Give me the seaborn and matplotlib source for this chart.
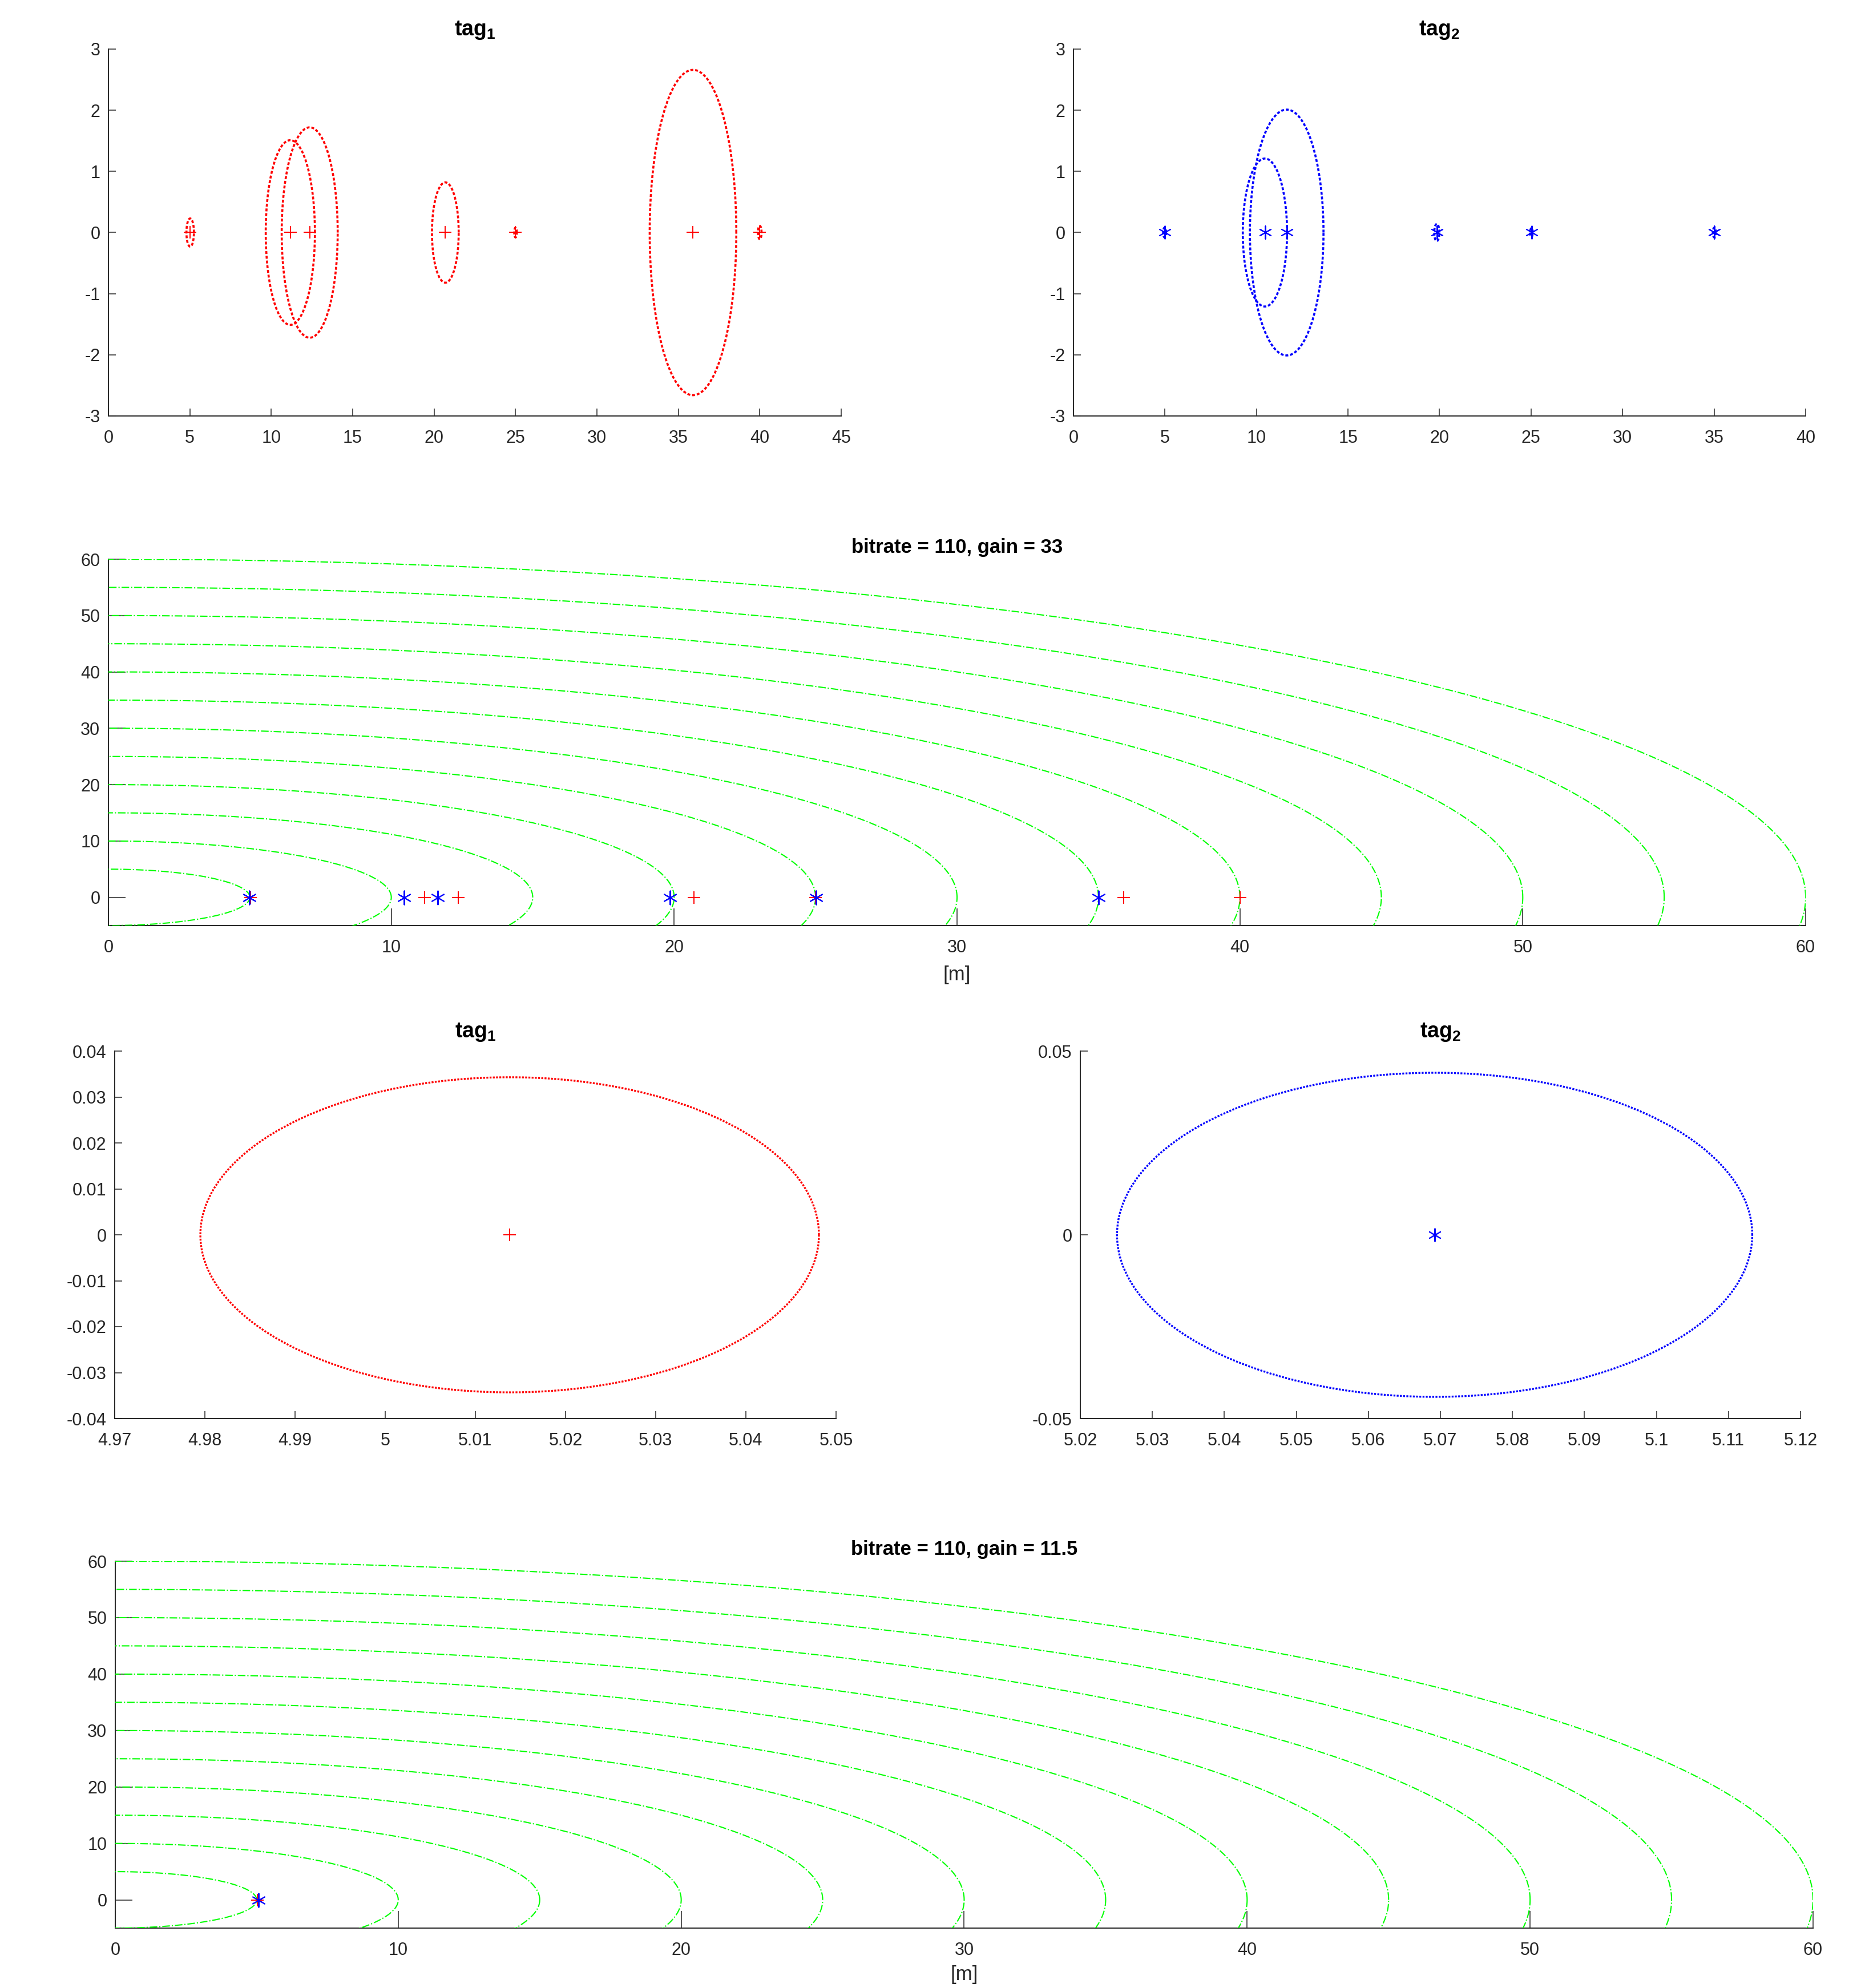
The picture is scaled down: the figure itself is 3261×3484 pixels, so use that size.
import numpy as np
import pandas as pd
import matplotlib
matplotlib.use("Agg")
import matplotlib.pyplot as plt
from matplotlib.ticker import FuncFormatter, FixedLocator
import seaborn as sns

# ---------------- data ----------------
# gain = 33 : estimated tag positions (on y = 0) and uncertainty radii
tag1_x = [5.02, 11.17, 12.36, 20.69, 25.0, 35.9, 40.0]
tag1_y = [0, 0, 0, 0, 0, 0, 0]
tag1_r = [0.23, 1.51, 1.72, 0.82, 0.08, 2.66, 0.11]

tag2_x = [4.98, 10.46, 11.65, 19.85, 25.02, 35.01]
tag2_y = [0, 0, 0, 0, 0, 0]
tag2_r = [0.08, 1.21, 2.01, 0.14, 0.07, 0.08]

# gain = 11.5 : single position, zoomed views
tag1z_x = [5.0138]
tag1z_y = [0]
tag1z_r = [0.0343]
tag2z_x = [5.0692]
tag2z_y = [0]
tag2z_r = [0.0441]

# range rings (radius in m)
ring_r = [5, 10, 15, 20, 25, 30, 35, 40, 45, 50, 55, 60]

title_tag1 = r"$\mathbf{tag_1}$"
title_tag2 = r"$\mathbf{tag_2}$"
title_g33 = "bitrate = 110, gain = 33"
title_g115 = "bitrate = 110, gain = 11.5"
xlabel_m = "[m]"

top1_xticks = [0, 5, 10, 15, 20, 25, 30, 35, 40, 45]
top2_xticks = [0, 5, 10, 15, 20, 25, 30, 35, 40]
top_yticks = [-3, -2, -1, 0, 1, 2, 3]
wide_xticks = [0, 10, 20, 30, 40, 50, 60]
wide_yticks = [0, 10, 20, 30, 40, 50, 60]
z1_xticks = [4.97, 4.98, 4.99, 5.0, 5.01, 5.02, 5.03, 5.04, 5.05]
z1_yticks = [-0.04, -0.03, -0.02, -0.01, 0, 0.01, 0.02, 0.03, 0.04]
z2_xticks = [5.02, 5.03, 5.04, 5.05, 5.06, 5.07, 5.08, 5.09, 5.10, 5.11, 5.12]
z2_yticks = [-0.05, 0, 0.05]

# ---------------- style ----------------
sns.set_theme(style="white")
plt.rcParams["font.family"] = ["Liberation Sans", "DejaVu Sans"]
plt.rcParams["mathtext.fontset"] = "custom"
plt.rcParams["mathtext.bf"] = "Liberation Sans:bold"
plt.rcParams["mathtext.rm"] = "Liberation Sans"
plt.rcParams["axes.unicode_minus"] = False

AX_COL = "#262626"
ASTERISK = (6, 2, 0)
fmt = FuncFormatter(lambda v, p: f"{round(v, 6):g}")


def circle_df(cx, cy, r, n=721):
    t = np.linspace(0, 2 * np.pi, n)
    return pd.DataFrame({"x": cx + r * np.cos(t), "y": cy + r * np.sin(t)})


def style_axes(ax, ticklen, xticks, yticks, xlim, ylim):
    for s in ["top", "right"]:
        ax.spines[s].set_visible(False)
    for s in ["left", "bottom"]:
        ax.spines[s].set_linewidth(1.4)
        ax.spines[s].set_color(AX_COL)
    ax.set_xlim(*xlim)
    ax.set_ylim(*ylim)
    ax.xaxis.set_major_locator(FixedLocator(xticks))
    ax.yaxis.set_major_locator(FixedLocator(yticks))
    ax.xaxis.set_major_formatter(fmt)
    ax.yaxis.set_major_formatter(fmt)
    ax.tick_params(direction="in", length=ticklen, width=1.1, colors=AX_COL,
                   labelsize=22, bottom=True, left=True)
    ax.tick_params(axis="x", pad=17)
    ax.tick_params(axis="y", pad=10.5)
    ax.set_xlabel("")
    ax.set_ylabel("")
    ax.set_facecolor("white")


def draw_circles(ax, xs, ys, rs, color, lw, dashes):
    for cx, cy, r in zip(xs, ys, rs):
        d = circle_df(cx, cy, r)
        sns.lineplot(data=d, x="x", y="y", sort=False, estimator=None, ax=ax,
                     color=color, linewidth=lw, linestyle=(0, dashes), zorder=3)


def draw_markers(ax, xs, ys, color, marker, s=230):
    sns.scatterplot(x=xs, y=ys, ax=ax, marker=marker, s=s, color=color,
                    linewidth=1.4, zorder=4)


def draw_rings(ax):
    for r in ring_r:
        d = circle_df(0, 0, r, n=4001)
        sns.lineplot(data=d, x="x", y="y", sort=False, estimator=None, ax=ax,
                     color=(0, 1, 0), linewidth=1.5, linestyle="-.", zorder=3)


W, H = 3262, 3484
fig = plt.figure(figsize=(W / 100, H / 100), dpi=100)
fig.patch.set_facecolor("white")


def rect(l, r, t, b):
    return [l / W, 1 - b / H, (r - l) / W, (b - t) / H]


# --- top left: tag1
ax1 = fig.add_axes(rect(190, 1474, 86, 729))
draw_circles(ax1, tag1_x, tag1_y, tag1_r, "red", 2.6, (1.4, 0.9))
draw_markers(ax1, tag1_x, tag1_y, "red", "+")
style_axes(ax1, 9.4, top1_xticks, top_yticks, (0, 45), (-3, 3))
ax1.set_title(title_tag1, fontsize=27, pad=17, color="black")

# --- top right: tag2
ax2 = fig.add_axes(rect(1881, 3164, 86, 729))
draw_circles(ax2, tag2_x, tag2_y, tag2_r, "blue", 2.6, (1.4, 0.9))
draw_markers(ax2, tag2_x, tag2_y, "blue", ASTERISK, s=260)
style_axes(ax2, 9.4, top2_xticks, top_yticks, (0, 40), (-3, 3))
ax2.set_title(title_tag2, fontsize=27, pad=17, color="black")

# --- middle wide: gain 33
ax3 = fig.add_axes(rect(190, 3164, 980, 1622))
draw_rings(ax3)
draw_markers(ax3, tag1_x, tag1_y, "red", "+")
draw_markers(ax3, tag2_x, tag2_y, "blue", ASTERISK, s=300)
style_axes(ax3, 21.5, wide_xticks, wide_yticks, (0, 60), (-5, 60))
ax3.set_title(title_g33, fontsize=25, fontweight="bold", pad=8, color="black")
ax3.set_xlabel(xlabel_m, fontsize=25, color=AX_COL, labelpad=12)

# --- zoom tag1 (gain 11.5)
ax4 = fig.add_axes(rect(201, 1465, 1842, 2486))
draw_circles(ax4, tag1z_x, tag1z_y, tag1z_r, "red", 2.4, (1.0, 0.7))
draw_markers(ax4, tag1z_x, tag1z_y, "red", "+")
style_axes(ax4, 9.4, z1_xticks, z1_yticks, (4.97, 5.05), (-0.04, 0.04))
ax4.set_title(title_tag1, fontsize=27, pad=17, color="black")

# --- zoom tag2 (gain 11.5)
ax5 = fig.add_axes(rect(1893, 3155, 1842, 2486))
draw_circles(ax5, tag2z_x, tag2z_y, tag2z_r, "blue", 2.4, (1.0, 0.7))
draw_markers(ax5, tag2z_x, tag2z_y, "blue", ASTERISK, s=260)
style_axes(ax5, 9.4, z2_xticks, z2_yticks, (5.02, 5.12), (-0.05, 0.05))
ax5.set_title(title_tag2, fontsize=27, pad=17, color="black")

# --- bottom wide: gain 11.5
ax6 = fig.add_axes(rect(202, 3177, 2736, 3379))
draw_rings(ax6)
draw_markers(ax6, tag1z_x, tag1z_y, "red", "+")
draw_markers(ax6, tag2z_x, tag2z_y, "blue", ASTERISK, s=300)
style_axes(ax6, 21.5, wide_xticks, wide_yticks, (0, 60), (-5, 60))
ax6.set_title(title_g115, fontsize=25, fontweight="bold", pad=8, color="black")
ax6.set_xlabel(xlabel_m, fontsize=25, color=AX_COL, labelpad=8)

fig.savefig("out.png", dpi=100, facecolor="white")
